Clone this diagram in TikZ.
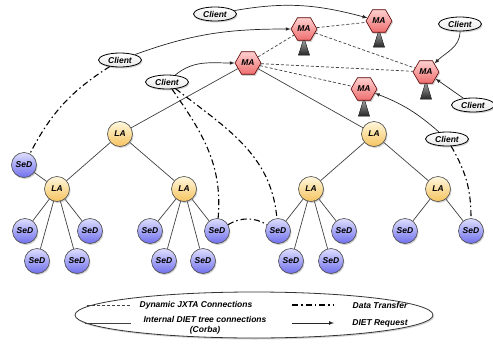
\documentclass[tikz,border=0pt]{standalone}
\usepackage{fontspec}
\setmainfont{Liberation Sans}
\usetikzlibrary{shapes.geometric,arrows,shadows,calc}

\definecolor{mapink}{RGB}{255,208,208}
\definecolor{mared}{RGB}{238,110,110}
\definecolor{layellow}{RGB}{255,247,220}
\definecolor{laorange}{RGB}{246,196,96}
\definecolor{sedlight}{RGB}{222,222,255}
\definecolor{sedblue}{RGB}{112,112,236}

\tikzstyle{lbl} = [font=\fontsize{8.5}{10}\selectfont\bfseries\itshape]
\tikzstyle{shadowed} = [drop shadow={opacity=0.35,shadow xshift=1pt,shadow yshift=-1.5pt}]
\tikzstyle{client} = [lbl, shadowed, ellipse, draw=black, line width=0.8pt, top color=white, bottom color=gray!18, minimum width=43pt, minimum height=14pt, inner sep=0pt]
\tikzstyle{ma} = [lbl, shadowed, regular polygon, regular polygon sides=6, draw=red!35!black, line width=0.6pt, top color=mapink, bottom color=mared, minimum size=26pt, inner sep=0pt]
\tikzstyle{la} = [lbl, shadowed, circle, draw=black!70, line width=0.6pt, top color=layellow, bottom color=laorange, minimum size=25pt, inner sep=0pt]
\tikzstyle{sed} = [lbl, shadowed, circle, draw=black!70, line width=0.6pt, top color=sedlight, bottom color=sedblue, minimum size=25pt, inner sep=0pt]
\tikzstyle{mastand} = [draw=black!80, line width=0.5pt, top color=gray!60, bottom color=black!85]
\tikzstyle{legend} = [shadowed, ellipse, draw=black!80, line width=0.8pt, fill=white, minimum width=358pt, minimum height=46pt]
\tikzstyle{tree} = [draw=black!75, line width=0.7pt]
\tikzstyle{jxta} = [draw=black!75, line width=0.7pt, dash pattern=on 3pt off 2pt]
\tikzstyle{data} = [draw=black, line width=1.1pt, dash pattern=on 6pt off 3pt on 1.5pt off 3pt]
\tikzstyle{request} = [draw=black!85, line width=0.7pt, -latex]

\begin{document}
\begin{tikzpicture}[x=1pt,y=1pt]
  \useasboundingbox (0,0) rectangle (493,-343);

  % legend
  \node[legend] (leg) at (254,-315) {};
  \coordinate (jx1) at (87,-305);
  \coordinate (jx2) at (130,-305);
  \draw[jxta] (jx1) -- (jx2);
  \node[lbl] (jxtxt) at (196,-305) {Dynamic JXTA Connections};
  \coordinate (tr1) at (85,-323);
  \coordinate (tr2) at (131,-323);
  \draw[tree] (tr1) -- (tr2);
  \node[lbl, align=center] (trtxt) at (205,-325) {Internal DIET tree connections\\(Corba)};
  \coordinate (dt1) at (292,-305);
  \coordinate (dt2) at (334,-305);
  \draw[data] (dt1) -- (dt2);
  \node[lbl] (dttxt) at (380,-305) {Data Transfer};
  \coordinate (rq1) at (292,-323);
  \coordinate (rq2) at (334,-323);
  \draw[request] (rq1) -- (rq2);
  \node[lbl] (rqtxt) at (380,-323) {DIET Request};

  % stands under the MAs
  \filldraw[mastand] (304,-38) -- (298.5,-55) -- (309.5,-55) -- cycle;
  \filldraw[mastand] (379,-30) -- (373.5,-47) -- (384.5,-47) -- cycle;
  \filldraw[mastand] (426,-81) -- (420.5,-99) -- (431.5,-99) -- cycle;
  \filldraw[mastand] (364,-98) -- (358.5,-116) -- (369.5,-116) -- cycle;

  % agents
  \node[ma] (ma0) at (248,-63) {MA};
  \node[ma] (ma1) at (304,-29) {MA};
  \node[ma] (ma2) at (379,-21) {MA};
  \node[ma] (ma3) at (426,-72) {MA};
  \node[ma] (ma4) at (364,-89) {MA};

  \node[la] (la1) at (120,-134) {LA};
  \node[la] (la2) at (374,-134) {LA};
  \node[la] (la11) at (57,-189) {LA};
  \node[la] (la12) at (184,-189) {LA};
  \node[la] (la21) at (311,-189) {LA};
  \node[la] (la22) at (438,-189) {LA};

  \node[sed] (s1) at (24,-165) {SeD};
  \node[sed] (s2) at (25,-231) {SeD};
  \node[sed] (s3) at (37,-261) {SeD};
  \node[sed] (s4) at (77,-261) {SeD};
  \node[sed] (s5) at (90,-231) {SeD};
  \node[sed] (s6) at (150,-231) {SeD};
  \node[sed] (s7) at (164,-261) {SeD};
  \node[sed] (s8) at (203,-261) {SeD};
  \node[sed] (s9) at (217,-231) {SeD};
  \node[sed] (s10) at (278,-231) {SeD};
  \node[sed] (s11) at (291,-261) {SeD};
  \node[sed] (s12) at (331,-261) {SeD};
  \node[sed] (s13) at (344,-231) {SeD};
  \node[sed] (s14) at (405,-231) {SeD};
  \node[sed] (s15) at (471,-231) {SeD};

  % clients
  \node[client] (c1) at (215,-14) {Client};
  \node[client] (c2) at (120,-60) {Client};
  \node[client] (c3) at (167,-82) {Client};
  \node[client] (c4) at (460,-24) {Client};
  \node[client] (c5) at (473,-105) {Client};
  \node[client] (c6) at (447,-139) {Client};

  % DIET tree
  \draw[tree] (ma0) -- (la1);
  \draw[tree] (ma0) -- (la2);
  \draw[tree] (la1) -- (la11);
  \draw[tree] (la1) -- (la12);
  \draw[tree] (la2) -- (la21);
  \draw[tree] (la2) -- (la22);
  \draw[tree] (la11) -- (s1);
  \draw[tree] (la11) -- (s2);
  \draw[tree] (la11) -- (s3);
  \draw[tree] (la11) -- (s4);
  \draw[tree] (la11) -- (s5);
  \draw[tree] (la12) -- (s6);
  \draw[tree] (la12) -- (s7);
  \draw[tree] (la12) -- (s8);
  \draw[tree] (la12) -- (s9);
  \draw[tree] (la21) -- (s10);
  \draw[tree] (la21) -- (s11);
  \draw[tree] (la21) -- (s12);
  \draw[tree] (la21) -- (s13);
  \draw[tree] (la22) -- (s14);
  \draw[tree] (la22) -- (s15);

  % JXTA links
  \draw[jxta] (ma0) -- (ma1);
  \draw[jxta] (ma0) -- (ma3);
  \draw[jxta] (ma0) -- (ma4);
  \draw[jxta] (ma1) -- (ma2);
  \draw[jxta] (ma1) -- (ma3);

  % requests
  \draw[request] (c1) to[out=10,in=165] (ma2);
  \draw[request] (c2) to[out=20,in=180] (ma1);
  \draw[request] (c3) to[out=40,in=180] (ma0);
  \draw[request] (c4) to[out=-90,in=45] (ma3);
  \draw[request] (c5) -- (ma3);
  \draw[request] (c6) to[bend right=10] (ma4);

  % data transfers
  \draw[data] (c2) to[bend right=15] (s1);
  \draw[data] (c3) to[out=-55,in=85] (s9);
  \draw[data] (c3) to[out=-38,in=95] (s10);
  \draw[data] (s9) to[bend left=30] (s10);
  \draw[data] (c6) to[out=-60,in=90] (s15);
\end{tikzpicture}
\end{document}
